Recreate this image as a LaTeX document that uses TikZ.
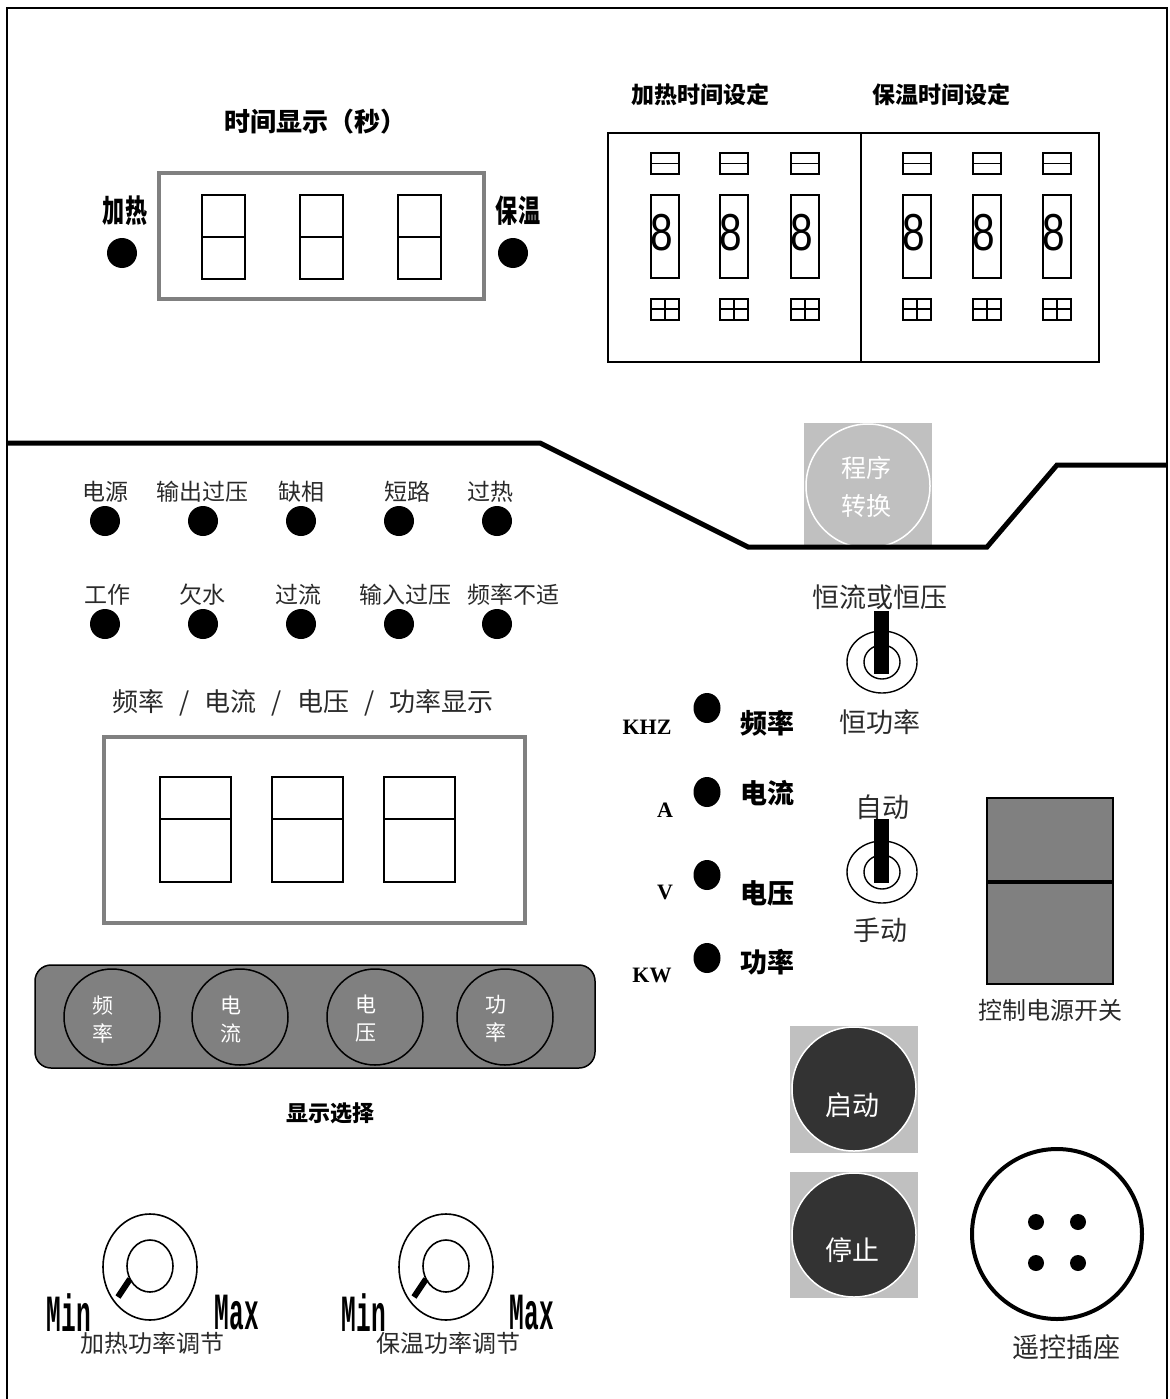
\documentclass[tikz,border=0pt]{standalone}
\usepackage{fontspec}
\usepackage{graphicx}
\setmainfont{Liberation Serif}
\newfontfamily\cjk{Noto Sans CJK SC}
\newfontfamily\monob{Liberation Mono}
\newfontfamily\sansd{Liberation Sans}
\usetikzlibrary{positioning, shapes.geometric}
\definecolor{panelGray}{HTML}{808080}
\definecolor{keyGray}{HTML}{C0C0C0}
\definecolor{keyDark}{HTML}{333333}
\definecolor{inkGray}{HTML}{2A2A2A}

\begin{document}
\begin{tikzpicture}[
    x=1pt, y=-1pt,
    every node/.style={inner sep=0pt, outer sep=0pt},
    cn/.style={font=\cjk\fontsize{#1}{#1}\selectfont, text=inkGray},
    cn/.default=23,
    cnb/.style={font=\cjk\bfseries\fontsize{#1}{#1}\selectfont, text=black},
    cnb/.default=23,
    unitlbl/.style={font=\bfseries\fontsize{22}{22}\selectfont},
    led/.style={circle, fill=black, minimum size=30pt},
    segbox/.style={draw=black, line width=1.6pt},
    slot/.style={draw=black, line width=1.4pt},
    bezel/.style={draw=panelGray, line width=3.5pt},
    divider/.style={line width=5pt, line join=miter},
    selbtn/.style={circle, draw=black, line width=1.5pt, minimum size=96pt},
    keydisc/.style={circle, fill=keyDark, draw=white, line width=1.5pt, minimum size=124pt},
    toggle/.style={draw=black, line width=1.4pt},
    knob/.style={draw=black, line width=1.6pt},
    minmax/.style={font=\monob\bfseries\fontsize{36}{36}\selectfont},
    digit/.style={font=\sansd\fontsize{52}{52}\selectfont},
]
\useasboundingbox (0,0) rectangle (1169,1399);

% ===== Marco =====
\draw[line width=2pt] (7,1399) -- (7,8) -- (1167,8) -- (1167,1399);

% ===== Tiempo (display) =====
\node[cnb=26] (timeTitle) at (315,122) {时间显示（秒）};
\draw[bezel] (159,173) rectangle (484,299);
\foreach \x in {202,300,398} {
    \draw[segbox] (\x,195) rectangle ++(43,84);
    \draw[segbox] (\x,237) -- ++(43,0);
}
\node[led] (heatLed) at (122,253) {};
\node[cnb=26] (heatLbl) at (125,211) {\scalebox{0.85}[1.2]{加热}};
\node[led] (holdLed) at (513,253) {};
\node[cnb=26] (holdLbl) at (518,211) {\scalebox{0.85}[1.2]{保温}};

% ===== Ajuste de tiempos =====
\node[cnb=23] (heatSet) at (700,95) {加热时间设定};
\node[cnb=23] (holdSet) at (941,95) {保温时间设定};
\draw[slot] (608,133) rectangle (1099,362);
\draw[slot] (861,133) -- (861,362);
\foreach \x in {665,734,805,917,987,1057} {
    \draw[slot] ({\x-14},153) rectangle ({\x+14},174);
    \draw[slot] ({\x-14},163.5) -- ({\x+14},163.5);
    \draw[slot] ({\x-14},195) rectangle ({\x+14},278);
    \node[digit] at ({\x-3},233) {\scalebox{0.78}[1]{8}};
    \draw[slot] ({\x-14},299) rectangle ({\x+14},320);
    \draw[slot] ({\x-14},309) -- ({\x+14},309);
    \draw[slot] (\x,299) -- (\x,320);
}

% ===== Boton programa =====
\fill[keyGray] (804,423) rectangle (932,547);
\node[circle, draw=white, line width=1.5pt, minimum size=124pt] (progBtn) at (868,486) {};
\node[cn=25, text=white, align=center, font=\cjk\fontsize{25}{38}\selectfont] (progLbl) at (866,487) {程序\\转换};

% ===== Linea divisoria =====
\draw[divider] (7,443) -- (540,443) -- (748,547) -- (987,547) -- (1057,465) -- (1167,465);

% ===== Indicadores =====
\foreach \x/\lx/\t [count=\i] in {105/105/电源, 203/202/输出过压, 301/301/缺相, 399/407/短路, 497/490/过热} {
    \node[led] (ledA\i) at (\x,521) {};
    \node[cn] (lblA\i) at (\lx,492) {\t};
}
\foreach \x/\lx/\t [count=\i] in {105/107/工作, 203/202/欠水, 301/298/过流, 399/405/输入过压, 497/513/频率不适} {
    \node[led] (ledB\i) at (\x,624) {};
    \node[cn] (lblB\i) at (\lx,595) {\t};
}

% ===== Display frecuencia / corriente / tension / potencia =====
\node[cn=26] (measTitle) at (303,703) {频率\hspace{15pt}/\hspace{15pt}电流\hspace{15pt}/\hspace{15pt}电压\hspace{15pt}/\hspace{15pt}功率显示};
\draw[bezel, line width=4pt] (104,737) rectangle (525,923);
\foreach \x in {160,272,384} {
    \draw[segbox] (\x,777) rectangle ++(71,105);
    \draw[segbox] (\x,819) -- ++(71,0);
}

% ===== Seleccion de display =====
\draw[fill=panelGray, draw=black, line width=1.5pt, rounded corners=16pt] (35,965) rectangle (595,1068);
\foreach \x/\a/\b [count=\i] in {112/频/率, 240/电/流, 375/电/压, 505/功/率} {
    \node[selbtn] (sel\i) at (\x,1017) {};
    \node[cn=21, text=white, align=center, font=\cjk\fontsize{21}{28}\selectfont] at ({\x-9},1019) {\a\\\b};
}
\node[cnb=22] (selTitle) at (330,1113) {显示选择};

% ===== Potenciometros =====
\foreach \cx/\mn/\mx/\t [count=\i] in {150/69/237/加热功率调节, 446/364/532/保温功率调节} {
    \draw[knob] (\cx,1267) ellipse [x radius=47pt, y radius=53pt];
    \draw[knob] (\cx,1266) ellipse [x radius=23pt, y radius=26pt];
    \draw[line width=6pt] ({\cx-20},1279) -- ({\cx-32},1297);
    \node[minmax] (min\i) at (\mn,1313) {\scalebox{0.68}[1.45]{Min}};
    \node[minmax] (max\i) at (\mx,1313) {\scalebox{0.68}[1.45]{Max}};
    \node[cn=24] (pot\i) at ({\cx+2},1343) {\t};
}

% ===== Conmutadores =====
\node[cn=27] (modeTop) at (880,597) {恒流或恒压};
\draw[toggle] (882,662) ellipse [x radius=35pt, y radius=31pt];
\draw[toggle] (882,662) ellipse [x radius=18pt, y radius=17pt];
\fill (874,611) rectangle (889,674);
\node[cn=27] (modeBot) at (880,722) {恒功率};

\node[cn=27] (autoTop) at (882,807) {自动};
\draw[toggle] (882,872) ellipse [x radius=35pt, y radius=31pt];
\draw[toggle] (882,872) ellipse [x radius=18pt, y radius=17pt];
\fill (874,819) rectangle (889,883);
\node[cn=27] (autoBot) at (880,930) {手动};

% ===== Indicadores de unidad =====
\foreach \y/\ly/\t [count=\i] in {708/723/频率, 792/793/电流, 875/893/电压, 958/962/功率} {
    \node[ellipse, fill=black, minimum width=27pt, minimum height=30pt] (unitLed\i) at (707,\y) {};
    \node[cnb=27] (unitName\i) at (767,\ly) {\t};
}
\node[unitlbl] (uKHZ) at (647,727) {KHZ};
\node[unitlbl] (uA) at (665,810) {A};
\node[unitlbl] (uV) at (665,892) {V};
\node[unitlbl] (uKW) at (652,975) {KW};

% ===== Interruptor de control =====
\draw[fill=panelGray, draw=black, line width=2pt] (987,798) rectangle (1113,984);
\draw[line width=4pt] (987,882) -- (1113,882);
\node[cn=24] (pwrLbl) at (1050,1010) {控制电源开关};

% ===== Marcha / paro =====
\fill[keyGray] (790,1026) rectangle (918,1153);
\node[keydisc] (startBtn) at (854,1089) {};
\node[cn=27, text=white] (startLbl) at (852,1105) {启动};
\fill[keyGray] (790,1172) rectangle (918,1298);
\node[keydisc] (stopBtn) at (854,1235) {};
\node[cn=27, text=white] (stopLbl) at (852,1250) {停止};

% ===== Conector remoto =====
\draw[line width=4pt] (1057,1234) circle [radius=85pt];
\foreach \px/\py in {1036/1222, 1078/1222, 1036/1263, 1078/1263}
    \fill (\px,\py) circle [radius=8pt];
\node[cn=27] (sockLbl) at (1066,1347) {遥控插座};

\end{tikzpicture}
\end{document}
